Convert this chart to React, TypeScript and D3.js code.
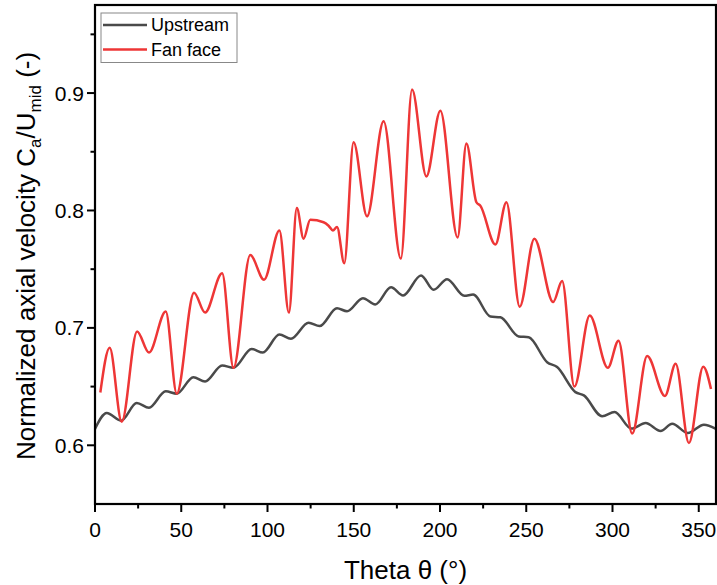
import React from "react";
import * as d3 from "d3";

const upTheta = [0, 6.8, 15.1, 24.2, 31.3, 41.0, 47.4, 57.0, 63.8, 73.7, 80.3, 90.8, 97.3, 106.9, 113.6, 123.8, 130.2, 140.3, 146.1, 155.3, 162.5, 171.6, 178.6, 189.0, 196.3, 204.1, 214.1, 219.2, 229.2, 235.0, 245.6, 251.4, 262.1, 267.9, 278.5, 283.4, 294.0, 301.2, 311.0, 319.2, 327.9, 334.6, 343.7, 353.0, 360.0];
const upVel = [0.614, 0.6275, 0.621, 0.636, 0.632, 0.646, 0.644, 0.658, 0.6544, 0.668, 0.666, 0.682, 0.679, 0.6944, 0.6907, 0.7043, 0.7015, 0.7167, 0.7142, 0.7253, 0.72, 0.7346, 0.7276, 0.7446, 0.7324, 0.7414, 0.7273, 0.7284, 0.7097, 0.709, 0.6927, 0.692, 0.6708, 0.6666, 0.6453, 0.6425, 0.6247, 0.6283, 0.6142, 0.619, 0.6122, 0.6184, 0.6105, 0.6176, 0.614];

const fanTheta = [3.1, 8.5, 15.5, 24.4, 31.3, 41.0, 47.4, 57.4, 63.8, 73.7, 80.3, 90.0, 98.0, 106.9, 112.4, 117.0, 120.9, 124.8, 132.5, 135.4, 137.9, 140.3, 144.5, 149.9, 157.7, 167.3, 177.3, 183.8, 192.1, 200.2, 210.2, 215.3, 221.1, 223.4, 232.1, 238.5, 246.2, 254.7, 265.6, 270.8, 277.9, 286.8, 297.3, 303.5, 311.4, 320.1, 330.4, 336.6, 344.3, 352.6, 357.1];
const fanVel = [0.645, 0.683, 0.62, 0.697, 0.679, 0.714, 0.644, 0.73, 0.713, 0.7465, 0.666, 0.762, 0.741, 0.783, 0.713, 0.802, 0.776, 0.792, 0.79, 0.787, 0.783, 0.786, 0.755, 0.858, 0.795, 0.876, 0.759, 0.903, 0.829, 0.885, 0.777, 0.857, 0.807, 0.804, 0.771, 0.807, 0.718, 0.776, 0.722, 0.74, 0.65, 0.7105, 0.666, 0.689, 0.61, 0.676, 0.642, 0.6695, 0.602, 0.667, 0.648];

const xMajor = [0, 50, 100, 150, 200, 250, 300, 350];
const xMinor = [25, 75, 125, 175, 225, 275, 325];
const yMajor = [0.6, 0.7, 0.8, 0.9];
const yMinor = [0.65, 0.75, 0.85, 0.95];
const seriesNames = ["Upstream", "Fan face"];
const seriesColors = ["#4a4a4a", "#ee3636"];

const W = 717, H = 585;
const L = 95, R = 716, T = 5, B = 504;
const FONT = "'Liberation Sans', Arial, sans-serif";

export default function App() {
  const x = d3.scaleLinear().domain([0, 360]).range([L, R]);
  const y = d3.scaleLinear().domain([0.55, 0.975]).range([B, T]);
  const line = d3
    .line<[number, number]>()
    .x((d) => x(d[0]))
    .y((d) => y(d[1]))
    .curve(d3.curveMonotoneX);
  const upPts = upTheta.map((t, i) => [t, upVel[i]] as [number, number]);
  const fanPts = fanTheta.map((t, i) => [t, fanVel[i]] as [number, number]);

  return (
    <svg width={W} height={H} style={{ position: "absolute", left: 0, top: 0, background: "#fff" }} fontFamily={FONT}>
      <rect x={0} y={0} width={W} height={H} fill="#fff" />
      <defs>
        <clipPath id="plotclip">
          <rect x={L} y={T} width={R - L} height={B - T} />
        </clipPath>
      </defs>
      <g clipPath="url(#plotclip)">
        <path d={line(upPts) || ""} fill="none" stroke={seriesColors[0]} strokeWidth={2.5} />
        <path d={line(fanPts) || ""} fill="none" stroke={seriesColors[1]} strokeWidth={2.5} />
      </g>
      {/* frame */}
      <rect x={L} y={T} width={R - L} height={B - T} fill="none" stroke="#000" strokeWidth={2.2} />
      {/* y ticks */}
      {yMajor.map((v) => (
        <g key={"ym" + v}>
          <line x1={L - 8} x2={L} y1={y(v)} y2={y(v)} stroke="#000" strokeWidth={2} />
          <text x={L - 11} y={y(v)} dy="0.36em" textAnchor="end" fontSize={21}>
            {v.toFixed(1)}
          </text>
        </g>
      ))}
      {yMinor.map((v) => (
        <line key={"yn" + v} x1={L - 4.5} x2={L} y1={y(v)} y2={y(v)} stroke="#000" strokeWidth={2} />
      ))}
      {/* x ticks */}
      {xMajor.map((v) => (
        <g key={"xm" + v}>
          <line x1={x(v)} x2={x(v)} y1={B} y2={B + 8} stroke="#000" strokeWidth={2} />
          <text x={x(v)} y={B + 33} textAnchor="middle" fontSize={21}>
            {v}
          </text>
        </g>
      ))}
      {xMinor.map((v) => (
        <line key={"xn" + v} x1={x(v)} x2={x(v)} y1={B} y2={B + 4.5} stroke="#000" strokeWidth={2} />
      ))}
      {/* axis titles */}
      <text x={(L + R) / 2} y={579} textAnchor="middle" fontSize={26}>
        Theta θ (°)
      </text>
      <text transform={`translate(35,${460}) rotate(-90)`} textAnchor="start" fontSize={26}>
        Normalized axial velocity C
        <tspan fontSize={17} dy={6}>a</tspan>
        <tspan dy={-6}>/U</tspan>
        <tspan fontSize={17} dy={6}>mid</tspan>
        <tspan dy={-6}> (-)</tspan>
      </text>
      {/* legend */}
      <rect x={101} y={13} width={136} height={49.5} fill="#fff" stroke="#888" strokeWidth={1} />
      {seriesNames.map((n, i) => (
        <g key={n}>
          <line x1={103} x2={147} y1={25 + i * 24.5} y2={25 + i * 24.5} stroke={seriesColors[i]} strokeWidth={2.6} />
          <text x={151} y={25 + i * 24.5} dy="0.36em" fontSize={18}>
            {n}
          </text>
        </g>
      ))}
    </svg>
  );
}
